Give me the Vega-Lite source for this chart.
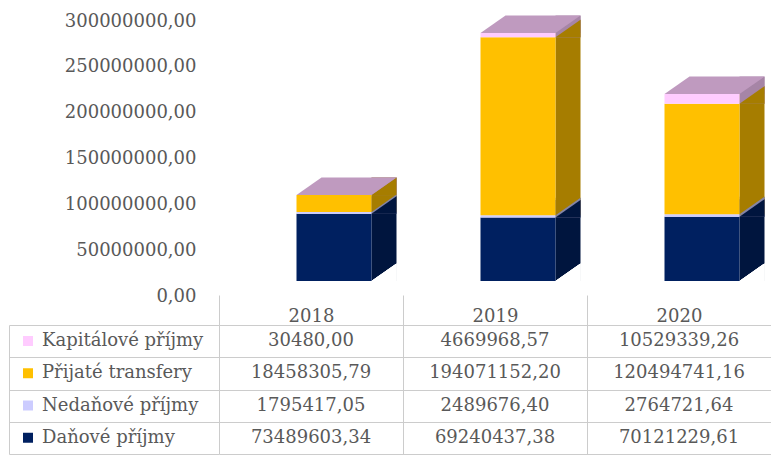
{
  "$schema": "https://vega.github.io/schema/vega-lite/v6.json",
  "padding": {"left": 8, "top": 6, "right": 0, "bottom": 0},
  "autosize": {"type": "pad"},
  "background": "white",
  "config": {
    "locale": {"number": {"decimal": ",", "thousands": " ", "grouping": [3], "currency": ["", " Kč"]}},
    "font": "DejaVu Serif",
    "legend": {"labelFont": "DejaVu Serif", "labelFontSize": 18, "labelColor": "#595959"},
    "view": {"stroke": null}
  },
  "data": {"values": [
    {"year": "2018", "series": "Daňové příjmy", "value": 73489603.34},
    {"year": "2018", "series": "Nedaňové příjmy", "value": 1795417.05},
    {"year": "2018", "series": "Přijaté transfery", "value": 18458305.79},
    {"year": "2018", "series": "Kapitálové příjmy", "value": 30480.00},
    {"year": "2019", "series": "Daňové příjmy", "value": 69240437.38},
    {"year": "2019", "series": "Nedaňové příjmy", "value": 2489676.40},
    {"year": "2019", "series": "Přijaté transfery", "value": 194071152.20},
    {"year": "2019", "series": "Kapitálové příjmy", "value": 4669968.57},
    {"year": "2020", "series": "Daňové příjmy", "value": 70121229.61},
    {"year": "2020", "series": "Nedaňové příjmy", "value": 2764721.64},
    {"year": "2020", "series": "Přijaté transfery", "value": 120494741.16},
    {"year": "2020", "series": "Kapitálové příjmy", "value": 10529339.26}
  ]},
  "spacing": 44,
  "bounds": "flush",
  "vconcat": [
    {
      "width": 552,
      "height": 275,
      "transform": [{"stack": "value", "groupby": ["year"], "as": ["v0", "v1"]}],
      "encoding": {
        "x": {"field": "year", "type": "nominal", "scale": {"paddingInner": 0, "paddingOuter": 0}, "axis": null}
      },
      "layer": [
        {
          "mark": {"type": "bar", "width": 25, "xOffset": 73, "yOffset": -17.5},
          "encoding": {
            "y": {"field": "v1", "type": "quantitative", "title": null,
              "scale": {"domain": [0, 300000000], "nice": false},
              "axis": {"values": [0, 50000000, 100000000, 150000000, 200000000, 250000000, 300000000],
                "format": ".2f", "domain": false, "ticks": false, "grid": false, "labelPadding": 23, "labelOffset": 15,
                "labelFont": "DejaVu Serif", "labelFontSize": 18, "labelColor": "#595959", "title": null}},
            "y2": {"field": "v0"},
            "fill": {"field": "series", "type": "nominal", "legend": null,
              "scale": {"domain": ["Daňové příjmy", "Nedaňové příjmy", "Přijaté transfery", "Kapitálové příjmy"],
                "range": ["#00153E", "#8585A6", "#A67D00", "#A685A6"]}}
          }
        },
        {
          "mark": {"type": "point", "shape": "M1.5,0L2.5,0L2.5,-0.7Z", "size": 2500, "filled": true, "opacity": 1, "strokeWidth": 0, "xOffset": 23},
          "encoding": {
            "y": {"field": "v1", "type": "quantitative", "title": null},
            "fill": {"field": "series", "type": "nominal", "legend": null},
            "order": {"field": "v1", "sort": "descending"}
          }
        },
        {
          "mark": {"type": "point", "shape": "M1.5,0L2.5,0L2.5,-0.7Z", "size": 2500, "filled": true, "opacity": 1, "strokeWidth": 0, "xOffset": 23, "fill": "white"},
          "encoding": {
            "y": {"datum": 0, "type": "quantitative", "title": null}
          }
        },
        {
          "transform": [{"filter": "datum.series === 'Kapitálové příjmy'"}],
          "mark": {"type": "point", "shape": "M-1.5,0L1.5,0L2.5,-0.7L-0.5,-0.7Z", "size": 2500, "filled": true, "opacity": 1, "strokeWidth": 0, "xOffset": 23, "fill": "#BF9ABF"},
          "encoding": {
            "y": {"field": "v1", "type": "quantitative", "title": null}
          }
        },
        {
          "mark": {"type": "bar", "width": 75, "xOffset": 23},
          "encoding": {
            "y": {"field": "v1", "type": "quantitative", "title": null},
            "y2": {"field": "v0"},
            "color": {"field": "series", "type": "nominal",
              "scale": {"domain": ["Kapitálové příjmy", "Přijaté transfery", "Nedaňové příjmy", "Daňové příjmy"],
                "range": ["#FFCCFF", "#FFC000", "#CCCCFF", "#002060"]},
              "legend": {"orient": "none", "legendX": -200, "legendY": 326, "direction": "vertical", "title": null,
                "symbolType": "square", "symbolSize": 100, "symbolStrokeWidth": 0,
                "labelFont": "DejaVu Serif", "labelFontSize": 18, "labelColor": "#595959", "labelOffset": 5, "labelLimit": 400,
                "rowPadding": 14.25, "padding": 0}}
          }
        }
      ]
    },
    {
      "width": 552,
      "height": 129,
      "mark": {"type": "text", "font": "DejaVu Serif", "fontSize": 18, "color": "#595959"},
      "encoding": {
        "x": {"field": "year", "type": "nominal", "scale": {"paddingInner": 0, "paddingOuter": 0},
          "axis": {"orient": "top", "title": null, "labelAngle": 0, "tickBand": "extent", "tickSize": 30,
            "tickColor": "#CCCCCC", "domainColor": "#CCCCCC", "grid": true, "gridColor": "#CCCCCC", "labelPadding": -30,
            "labelFont": "DejaVu Serif", "labelFontSize": 18, "labelColor": "#595959"}},
        "y": {"field": "series", "type": "nominal",
          "scale": {"domain": ["Kapitálové příjmy", "Přijaté transfery", "Nedaňové příjmy", "Daňové příjmy"], "paddingInner": 0, "paddingOuter": 0},
          "axis": {"title": null, "labels": false, "offset": 210, "tickBand": "extent", "tickSize": -210,
            "tickColor": "#CCCCCC", "domainColor": "#CCCCCC", "grid": true, "gridColor": "#CCCCCC"}},
        "text": {"field": "value", "type": "quantitative", "format": ".2f"}
      }
    }
  ]
}
